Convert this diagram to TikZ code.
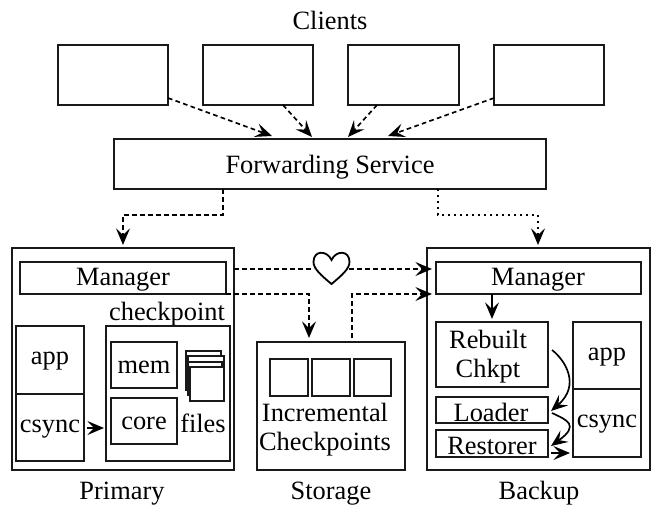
\documentclass[tikz,border=0pt]{standalone}
\usepackage{fontspec}
\setmainfont{Liberation Serif}
\usetikzlibrary{arrows.meta,calc}
\newcommand{\fs}{\fontsize{19.8}{21.8}\selectfont}
\tikzset{
  box/.style={draw=black!90,line width=1.6pt,rectangle,inner sep=0pt,outer sep=0pt},
  thin box/.style={box,line width=1.3pt},
  file box/.style={box,line width=1.1pt,fill=white},
  lbl/.style={inner sep=0pt,outer sep=0pt,anchor=base,font=\fs,yshift=-0.75pt},
  tip/.style={-{Stealth[length=12.5pt,width=10.5pt,inset=5pt]}},
  solidarrow/.style={tip,line width=1.25pt},
  dashedarrow/.style={tip,line width=1.25pt,dash pattern=on 3.5pt off 2.5pt},
  dottedarrow/.style={tip,line width=1.25pt,dash pattern=on 1.5pt off 3pt},
}
% \bx{style}{name}{x1}{y1}{x2}{y2}
\newcommand{\bx}[6]{\node[#1,minimum width={(#5-#3)*0.75pt},minimum height={(#6-#4)*0.75pt}] (#2) at ({(#3+#5)/2},{(#4+#6)/2}) {};}
\begin{document}
\begin{tikzpicture}[x=0.75pt,y=-0.75pt]
\useasboundingbox (0,0) rectangle (652,504);
% clients
\node[lbl] (clients) at (330,28) {Clients};
\bx{box}{c1}{58}{45}{168}{105}
\bx{box}{c2}{203}{45}{313}{105}
\bx{box}{c3}{348}{45}{459}{105}
\bx{box}{c4}{494}{45}{604}{105}
\bx{box}{fs}{114}{139}{546}{189}
\node[lbl] (fslbl) at (330,172) {Forwarding Service};
% primary
\bx{box}{prim}{12}{248}{234}{470}
\bx{thin box}{mgrp}{20}{262}{226}{294}
\node[lbl] (mgrplbl) at (123,284) {Manager};
\bx{thin box}{appp}{16}{326}{84}{394}
\bx{thin box}{csyncp}{16}{394}{84}{461}
\node[lbl] (appplbl) at (50,363) {app};
\node[lbl] (csyncplbl) at (50,431) {csync};
\node[lbl] (ckpt) at (167,319) {checkpoint};
\bx{thin box}{ckbox}{106}{326}{230}{461}
\bx{thin box}{mem}{111}{342}{177}{388}
\node[lbl] (memlbl) at (144,372) {mem};
\bx{thin box}{core}{111}{398}{177}{444}
\node[lbl] (corelbl) at (144,428) {core};
\bx{file box}{f1}{186}{351}{221}{390}
\bx{file box}{f2}{188}{356}{224}{392}
\bx{file box}{f3}{188}{362}{222}{395}
\bx{file box}{f4}{190}{367}{224}{401}
\node[lbl] (files) at (203,431) {files};
\node[lbl] (primary) at (122,498) {Primary};
% storage
\bx{box}{stor}{257}{342}{405}{470}
\bx{thin box}{s1}{270}{359}{308}{396}
\bx{thin box}{s2}{312}{359}{350}{396}
\bx{thin box}{s3}{354}{359}{391}{396}
\node[lbl] (incr) at (325,420) {Incremental};
\node[lbl] (chks) at (325,449) {Checkpoints};
\node[lbl] (storage) at (331,498) {Storage};
% backup
\bx{box}{back}{427}{248}{650}{470}
\bx{thin box}{mgrb}{436}{262}{641}{294}
\node[lbl] (mgrblbl) at (538,284) {Manager};
\bx{thin box}{rebuilt}{436}{322}{548}{387}
\node[lbl] (rebuiltlbl) at (488,347) {Rebuilt};
\node[lbl] (chkptlbl) at (488,376) {Chkpt};
\bx{thin box}{loader}{436}{397}{548}{423}
\node[lbl] (loaderlbl) at (491,420) {Loader};
\bx{thin box}{restorer}{436}{430}{548}{457}
\node[lbl] (restorerlbl) at (492,453) {Restorer};
\bx{thin box}{appb}{573}{322}{641}{389}
\bx{thin box}{csyncb}{573}{389}{641}{457}
\node[lbl] (appblbl) at (607,359) {app};
\node[lbl] (csyncblbl) at (607,426) {csync};
\node[lbl] (backup) at (539,498) {Backup};
% heart
\draw[line width=1.35pt,line join=miter] (331.5,284)
  .. controls (322,276) and (313.5,269) .. (313.5,262)
  .. controls (313.5,250) and (327,250) .. (331.5,260)
  .. controls (336,250) and (349.5,250) .. (349.5,262)
  .. controls (349.5,269) and (341,276) .. (331.5,284) -- cycle;
\coordinate (heartL) at (314,269);
\coordinate (heartR) at (349,269);
% connectors
\draw[dashedarrow] ($(c1.south east)+(0,-7)$) -- ($(fs.north west)+(158,-3)$);
\draw[dashedarrow] ($(c2.south west)+(80,0)$) -- ($(fs.north west)+(198,-2)$);
\draw[dashedarrow] ($(c3.south west)+(29,0)$) -- ($(fs.north west)+(234,-2)$);
\draw[dashedarrow] ($(c4.south west)+(0,-7)$) -- ($(fs.north west)+(274,-3)$);
\draw[dashedarrow] ($(fs.south west)+(109,0)$) -- ++(0,26) -| ($(prim.north west)+(111,-3)$);
\draw[dottedarrow] ($(fs.south west)+(324,0)$) -- ++(0,26) -| ($(back.north west)+(111,-3)$);
\draw[dashedarrow,-] ($(prim.north east)+(0,21)$) -- (heartL);
\draw[dashedarrow] (heartR) -- ($(back.north west)+(5,21)$);
\draw[dashedarrow] (mgrp.south east) -| ($(stor.north west)+(52,-4)$);
\draw[dashedarrow] ($(stor.north west)+(95,-4)$) |- ($(back.north west)+(5,46)$);
\draw[solidarrow] ($(csyncp.south east)+(3,-33)$) -- ($(ckbox.south west)+(-2,-33)$);
\draw[solidarrow] ($(mgrb.south west)+(56,0)$) -- ($(rebuilt.north west)+(56,-3)$);
\draw[solidarrow] ($(rebuilt.south east)+(4,-37)$) .. controls (565,360) and (581,385) .. ($(loader.south east)+(3,-12)$);
\draw[solidarrow] ($(loader.south east)+(4,-10)$) .. controls (567,420) and (580,425) .. ($(restorer.south east)+(3,-11)$);
\draw[solidarrow] ($(restorer.south east)+(3,-4)$) -- ($(csyncb.south west)+(-3,-4)$);
\end{tikzpicture}
\end{document}
